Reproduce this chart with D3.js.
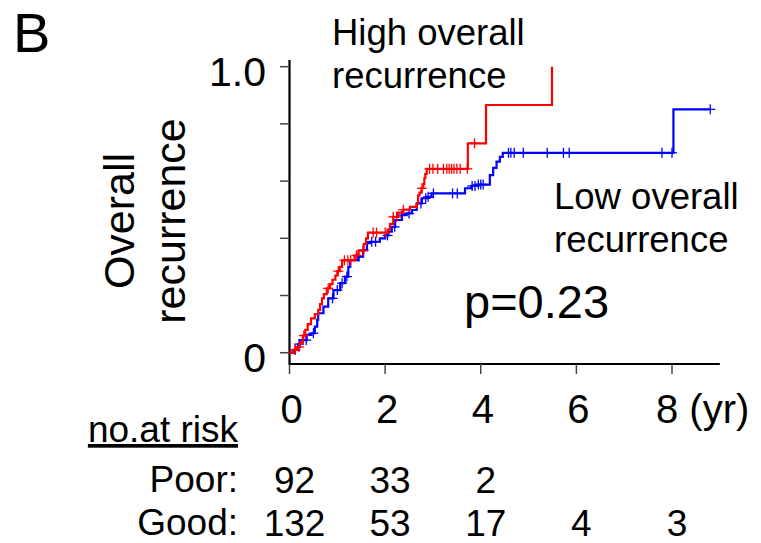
<!DOCTYPE html>
<html>
<head>
<meta charset="utf-8">
<script src="https://cdn.jsdelivr.net/npm/d3@7"></script>
<style>
  html, body { margin: 0; padding: 0; background: #fff; }
  svg { display: block; font-family: Arial, "Liberation Sans", sans-serif; }
</style>
</head>
<body>
<svg id="chart" width="761" height="543" viewBox="0 0 761 543"></svg>
<script>
// Cumulative recurrence steps: [years, cumulative proportion after the event]
const highSteps = [
  [0.08,0.01],[0.15,0.02],[0.22,0.035],[0.28,0.06],[0.33,0.08],[0.38,0.10],[0.45,0.12],
  [0.53,0.135],[0.60,0.15],[0.64,0.17],[0.68,0.19],[0.72,0.205],[0.78,0.225],[0.85,0.24],
  [0.90,0.255],[0.96,0.27],[1.0,0.285],[1.05,0.30],[1.10,0.323],[1.36,0.34],[1.44,0.357],
  [1.55,0.38],[1.60,0.40],[1.64,0.42],[2.05,0.43],[2.10,0.45],[2.17,0.475],[2.27,0.49],
  [2.38,0.50],[2.52,0.51],[2.66,0.52],[2.69,0.55],[2.72,0.56],[2.76,0.575],[2.80,0.59],
  [2.82,0.61],[2.84,0.625],[2.87,0.643],[3.73,0.732],[4.11,0.866],[5.49,1.0]
];
const highEnd = 5.49;
const highCensor = [0.12,0.2,0.3,0.81,1.02,1.15,1.22,1.28,1.40,1.54,1.75,1.82,2.0,2.17,
  2.24,2.38,2.77,2.93,3.0,3.1,3.22,3.29,3.34,3.39,3.44,3.5,3.57,3.72,3.87];

const lowSteps = [
  [0.1,0.01],[0.18,0.03],[0.22,0.044],[0.36,0.062],[0.46,0.068],[0.53,0.091],[0.58,0.115],
  [0.60,0.138],[0.71,0.161],[0.81,0.19],[0.92,0.219],[1.06,0.243],[1.16,0.266],[1.23,0.30],
  [1.27,0.324],[1.44,0.336],[1.54,0.359],[1.62,0.383],[1.68,0.388],[1.89,0.40],[2.0,0.41],
  [2.07,0.423],[2.14,0.44],[2.21,0.464],[2.35,0.481],[2.45,0.487],[2.56,0.499],[2.66,0.522],
  [2.77,0.54],[2.87,0.545],[2.97,0.557],[3.67,0.575],[3.81,0.583],[3.92,0.588],[4.19,0.621],
  [4.26,0.646],[4.33,0.668],[4.40,0.685],[4.46,0.699],[8.03,0.851]
];
const lowEnd = 8.8;
const lowCensor = [0.12,0.2,0.35,0.5,0.9,1.0,1.1,1.2,1.45,1.55,1.72,1.8,2.05,2.2,2.35,2.5,
  2.75,2.85,2.90,3.01,3.41,3.51,3.82,3.88,3.95,4.0,4.05,4.58,4.63,4.70,4.89,5.39,5.73,
  5.85,7.79,8.0,8.8];

// Axis ticks
const xTicks = [0, 2, 4, 6, 8];
const xUnit = "(yr)";
const yTicks = [0, 0.2, 0.4, 0.6, 0.8, 1.0];
const yTickLabels = {0: "0", 1: "1.0"};

// Number at risk table
const riskTimes = [0, 2, 4, 6, 8];
const riskPoor = [92, 33, 2];
const riskGood = [132, 53, 17, 4, 3];

const svg = d3.select("#chart");

const x = d3.scaleLinear().domain([0, 8]).range([289.5, 672]);
const y = d3.scaleLinear().domain([0, 1]).range([352.7, 66.7]);

const axisY = 364;     // x-axis baseline
const axisLeft = 289.5;

// Panel letter
svg.append("text").attr("x", 13).attr("y", 52)
  .attr("font-size", 56).text("B");

// Axes lines
svg.append("line").attr("x1", axisLeft).attr("x2", axisLeft)
  .attr("y1", 60).attr("y2", axisY + 1)
  .attr("stroke", "#000").attr("stroke-width", 2.2);
svg.append("line").attr("x1", axisLeft).attr("x2", x(9))
  .attr("y1", axisY).attr("y2", axisY)
  .attr("stroke", "#000").attr("stroke-width", 2.2);

// Y ticks
svg.selectAll(".ytick").data(yTicks).join("line")
  .attr("x1", 280).attr("x2", axisLeft)
  .attr("y1", d => y(d)).attr("y2", d => y(d))
  .attr("stroke", "#444").attr("stroke-width", 1.5);
svg.selectAll(".ylab").data(yTicks.filter(d => yTickLabels[d] !== undefined)).join("text")
  .attr("x", 266).attr("y", d => y(d) + 8)
  .attr("text-anchor", "end").attr("dominant-baseline", "middle")
  .attr("font-size", 41).text(d => yTickLabels[d]);

// X ticks
svg.selectAll(".xtick").data(xTicks).join("line")
  .attr("x1", d => x(d)).attr("x2", d => x(d))
  .attr("y1", axisY).attr("y2", axisY + 10)
  .attr("stroke", "#444").attr("stroke-width", 1.5);
const lastTick = xTicks[xTicks.length - 1];
svg.selectAll(".xlab").data(xTicks.slice(0, -1)).join("text")
  .attr("x", d => x(d) + 2).attr("y", 423)
  .attr("text-anchor", "middle")
  .attr("font-size", 40).text(d => d);
// last tick carries the time unit
svg.append("text").attr("x", x(lastTick) - 16).attr("y", 423)
  .attr("font-size", 40).text(lastTick + " " + xUnit);

// Y axis title
const yTitle = svg.append("text").attr("font-size", 43)
  .attr("text-anchor", "middle")
  .attr("transform", "translate(134,221) rotate(-90)");
yTitle.append("tspan").attr("x", 0).attr("y", 0).text("Overall");
yTitle.append("tspan").attr("x", 0).attr("y", 51).text("recurrence");

// Step curves
function curvePoints(steps, end) {
  const pts = [[0, 0], ...steps];
  const last = steps[steps.length - 1];
  if (end > last[0]) pts.push([end, last[1]]);
  return pts;
}
function valueAt(steps, t) {
  let v = 0;
  for (const s of steps) { if (s[0] <= t) v = s[1]; else break; }
  return v;
}
const line = d3.line().x(d => x(d[0])).y(d => y(d[1])).curve(d3.curveStepAfter);

const groups = [
  { steps: lowSteps, end: lowEnd, censor: lowCensor, color: "#0000ff" },
  { steps: highSteps, end: highEnd, censor: highCensor, color: "#ff0000" }
];

groups.forEach(g => {
  svg.append("path").datum(curvePoints(g.steps, g.end))
    .attr("d", line).attr("fill", "none")
    .attr("stroke", g.color).attr("stroke-width", 2.2);
  const cz = svg.append("g").attr("stroke", g.color).attr("stroke-width", 1.3);
  g.censor.forEach(t => {
    const cx = x(t), cy = y(valueAt(g.steps, t));
    cz.append("line").attr("x1", cx).attr("x2", cx).attr("y1", cy - 5).attr("y2", cy + 5);
    cz.append("line").attr("x1", cx - 5).attr("x2", cx + 5).attr("y1", cy).attr("y2", cy);
  });
});

// Group labels
const hi = svg.append("text").attr("font-size", 36.5);
hi.append("tspan").attr("x", 332).attr("y", 45).text("High overall");
hi.append("tspan").attr("x", 332).attr("y", 88).text("recurrence");
const lo = svg.append("text").attr("font-size", 36.5);
lo.append("tspan").attr("x", 554).attr("y", 209).text("Low overall");
lo.append("tspan").attr("x", 554).attr("y", 252).text("recurrence");

svg.append("text").attr("x", 464).attr("y", 318)
  .attr("font-size", 47).text("p=0.23");

// Number at risk
svg.append("text").attr("x", 238).attr("y", 442)
  .attr("text-anchor", "end").attr("font-size", 37)
  .attr("text-decoration", "underline").text("no.at risk");
svg.append("text").attr("x", 238).attr("y", 492)
  .attr("text-anchor", "end").attr("font-size", 37).text("Poor:");
svg.append("text").attr("x", 238).attr("y", 535)
  .attr("text-anchor", "end").attr("font-size", 37).text("Good:");

svg.selectAll(".rp").data(riskPoor).join("text")
  .attr("x", (d, i) => x(riskTimes[i]) + 5).attr("y", 493)
  .attr("text-anchor", "middle").attr("font-size", 37).text(d => d);
svg.selectAll(".rg").data(riskGood).join("text")
  .attr("x", (d, i) => x(riskTimes[i]) + 5).attr("y", 536)
  .attr("text-anchor", "middle").attr("font-size", 37).text(d => d);
</script>
</body>
</html>
